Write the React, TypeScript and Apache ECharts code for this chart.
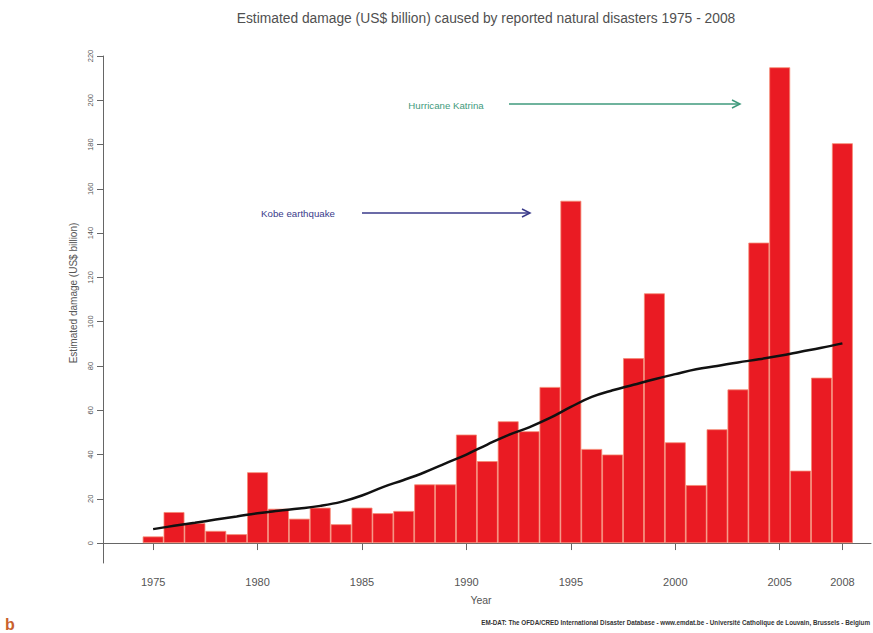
import React, { useEffect, useRef } from "react";
import * as echarts from "echarts";

const years = [
  1975, 1976, 1977, 1978, 1979, 1980, 1981, 1982, 1983, 1984, 1985, 1986,
  1987, 1988, 1989, 1990, 1991, 1992, 1993, 1994, 1995, 1996, 1997, 1998,
  1999, 2000, 2001, 2002, 2003, 2004, 2005, 2006, 2007, 2008,
];
const damage = [
  3, 14, 9, 5.5, 4, 32, 15.5, 11, 16, 8.5, 16, 13.5, 14.5, 26.5, 26.5, 49, 37,
  55, 50.5, 70.5, 154.6, 42.5, 40, 83.5, 112.8, 45.5, 26.2, 51.4, 69.4, 135.7,
  214.9, 32.7, 74.7, 180.6,
];
const trend = [
  6.3, 7.8, 9.2, 10.6, 12, 13.5, 14.6, 15.6, 16.8, 18.6, 21.5, 25.3, 28.5, 32,
  36, 40, 44.5, 48.8, 52.3, 56.5, 61.5, 66, 69, 71.5, 74, 76.3, 78.5, 80, 81.6,
  83, 84.6, 86.4, 88.2, 90.2,
];
const yTicks = [0, 20, 40, 60, 80, 100, 120, 140, 160, 180, 200, 220];
const xTicks = [1975, 1980, 1985, 1990, 1995, 2000, 2005, 2008];

const titleText =
  "Estimated damage (US$ billion) caused by reported natural disasters 1975 - 2008";
const yName = "Estimated damage (US$ billion)";
const xName = "Year";
const creditText =
  "EM-DAT: The OFDA/CRED International Disaster Database - www.emdat.be - Université Catholique de Louvain, Brussels - Belgium";
const notes = ["Hurricane Katrina", "Kobe earthquake"];

const FONT = "'Liberation Sans', Arial, sans-serif";

export default function App() {
  const ref = useRef<HTMLDivElement>(null);

  useEffect(() => {
    document.body.style.margin = "0";
    const chart = echarts.init(ref.current!, null, { renderer: "svg" });
    const green = "#3f9a7c";
    const navy = "#3a3a8a";
    const arrow = (x1: number, x2: number, y: number, color: string) => [
      {
        type: "line",
        shape: { x1, y1: y, x2, y2: y },
        style: { stroke: color, lineWidth: 1.5 },
      },
      {
        type: "polyline",
        shape: { points: [[x2 - 8, y - 4], [x2, y], [x2 - 8, y + 4]] },
        style: { stroke: color, lineWidth: 1.5, fill: "none" },
      },
    ];
    chart.setOption({
      animation: false,
      backgroundColor: "#ffffff",
      textStyle: { fontFamily: FONT },
      graphic: [
        {
          type: "text",
          x: 486,
          y: 18,
          style: {
            text: titleText,
            fontSize: 13.8,
            fill: "#505050",
            align: "center",
            verticalAlign: "middle",
            fontFamily: FONT,
          },
        },
        {
          type: "text",
          x: 73,
          y: 293,
          rotation: Math.PI / 2,
          style: {
            text: yName,
            fontSize: 10,
            fill: "#555",
            align: "center",
            verticalAlign: "middle",
            fontFamily: FONT,
          },
        },
        {
          type: "text",
          x: 481,
          y: 600,
          style: {
            text: xName,
            fontSize: 10.5,
            fill: "#555",
            align: "center",
            verticalAlign: "middle",
            fontFamily: FONT,
          },
        },
        {
          type: "text",
          x: 446,
          y: 105,
          style: {
            text: notes[0],
            fontSize: 9.7,
            fill: green,
            align: "center",
            verticalAlign: "middle",
            fontFamily: FONT,
          },
        },
        ...arrow(509, 740, 104, green),
        {
          type: "text",
          x: 298,
          y: 213,
          style: {
            text: notes[1],
            fontSize: 9.7,
            fill: navy,
            align: "center",
            verticalAlign: "middle",
            fontFamily: FONT,
          },
        },
        ...arrow(362, 530, 213, navy),
        {
          type: "text",
          x: 870,
          y: 622,
          style: {
            text: creditText,
            fontSize: 6.3,
            fontWeight: "bold",
            fill: "#333",
            align: "right",
            verticalAlign: "middle",
            fontFamily: FONT,
          },
        },
        {
          type: "text",
          x: 5,
          y: 624,
          style: {
            text: "b",
            fontSize: 16,
            fontWeight: "bold",
            fill: "#c9612c",
            align: "left",
            verticalAlign: "middle",
            fontFamily: FONT,
          },
        },
      ],
      grid: { left: 103, right: 2, top: 56, bottom: 70, containLabel: false },
      xAxis: {
        type: "value",
        min: 1972.6,
        max: 2009.37,
        splitLine: { show: false },
        axisLine: { show: true, lineStyle: { color: "#666", width: 1 } },
        axisTick: { show: true, length: 7, customValues: xTicks, lineStyle: { color: "#666" } },
        axisLabel: {
          customValues: xTicks,
          fontSize: 11,
          color: "#555",
          margin: 13,
          fontFamily: FONT,
          formatter: (v: number) => String(v),
        },
      },
      yAxis: {
        type: "value",
        min: -9,
        max: 220,
        splitLine: { show: false },
        axisLine: { show: true, lineStyle: { color: "#666", width: 1 } },
        axisTick: { show: true, length: 6, customValues: yTicks, lineStyle: { color: "#666" } },
        axisLabel: {
          customValues: yTicks,
          rotate: 90,
          fontSize: 7.5,
          color: "#555",
          margin: 9,
          fontFamily: FONT,
        },
      },
      series: [
        {
          type: "bar",
          data: years.map((y, i) => [y, damage[i]]),
          barWidth: "100%",
          itemStyle: { color: "#ea1b23", borderColor: "#f58a74", borderWidth: 0.8 },
          z: 2,
        },
        {
          type: "line",
          data: years.map((y, i) => [y, trend[i]]),
          smooth: 0.4,
          showSymbol: false,
          lineStyle: { color: "#111", width: 2.5 },
          z: 3,
        },
      ],
    });
    return () => chart.dispose();
  }, []);

  return (
    <div
      ref={ref}
      style={{ position: "fixed", left: 0, top: 0, width: 873, height: 633 }}
    />
  );
}
